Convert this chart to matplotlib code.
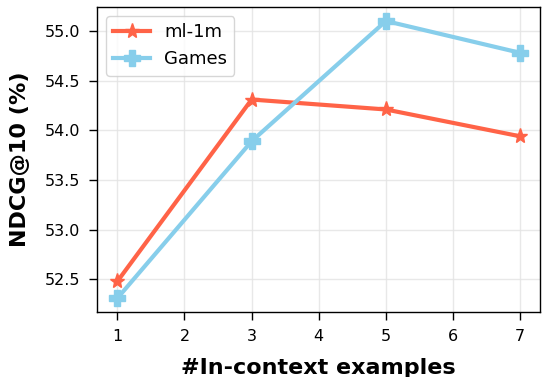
import matplotlib
matplotlib.use("Agg")
import matplotlib.pyplot as plt

n_examples = [1, 3, 5, 7]
ml1m_ndcg = [52.48, 54.31, 54.21, 53.94]
games_ndcg = [52.31, 53.89, 55.10, 54.78]

fig, ax = plt.subplots(figsize=(5.43, 3.77), dpi=100)
fig.subplots_adjust(left=0.179, right=0.995, top=0.981, bottom=0.172)

ax.plot(n_examples, ml1m_ndcg, color='tomato', marker='*', markersize=11,
        linewidth=3, label='ml-1m')
ax.plot(n_examples, games_ndcg, color='skyblue', marker='P', markersize=11,
        linewidth=3, label='Games')

ax.set_xticks(range(1, 8))
ax.set_yticks([52.5, 53.0, 53.5, 54.0, 54.5, 55.0])
ax.tick_params(labelsize=11.5, length=6, width=1, pad=6)
for s in ax.spines.values():
    s.set_linewidth(1)
ax.set_xlabel('#In-context examples', fontsize=16, fontweight='bold', labelpad=10.5)
ax.set_ylabel('NDCG@10 (%)', fontsize=16, fontweight='bold', labelpad=11)
ax.grid(True, color='#e3e3e3', linewidth=1, alpha=0.8)
ax.legend(loc='upper left', fontsize=13)

fig.savefig('out.png', dpi=100)
